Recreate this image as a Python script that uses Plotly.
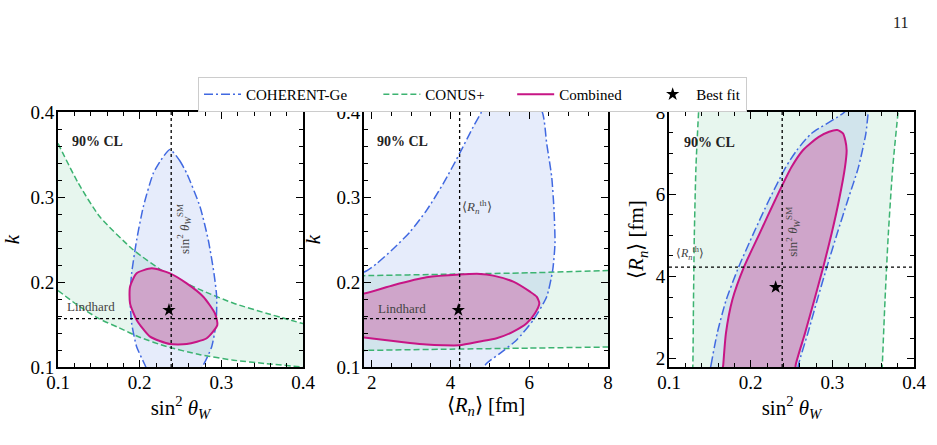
import plotly.graph_objects as go

# ---------------- reference values ----------------
sw2_sm = 0.2386          # SM weak mixing angle
k_lindhard = 0.157       # Lindhard k
rn_th = 4.23             # theoretical neutron radius [fm]

# ---------------- panel 1 : sin^2(theta_W) vs k ----------------
p1_conus_s_up = [0.100, 0.125, 0.151, 0.192, 0.233, 0.274, 0.315, 0.356, 0.400]
p1_conus_k_up = [0.363, 0.316, 0.277, 0.238, 0.210, 0.191, 0.175, 0.163, 0.151]
p1_conus_s_lo = [0.100, 0.125, 0.150, 0.175, 0.200, 0.233, 0.274, 0.315, 0.355, 0.400]
p1_conus_k_lo = [0.190, 0.172, 0.157, 0.146, 0.135, 0.124, 0.1145, 0.108, 0.104, 0.100]

p1_coh_s = [0.2371, 0.2485, 0.2576, 0.2739, 0.2840, 0.2910, 0.2943, 0.2935, 0.2882, 0.2780,
            0.2650, 0.2400, 0.2150, 0.2065, 0.1963, 0.1902, 0.1882, 0.1902, 0.1963, 0.2045,
            0.2167, 0.2261, 0.2371]
p1_coh_k = [0.356, 0.3435, 0.3279, 0.2886, 0.2494, 0.2102, 0.1827, 0.1514, 0.1239, 0.1024,
            0.085, 0.075, 0.085, 0.1024, 0.1239, 0.1514, 0.1827, 0.2102, 0.2494, 0.2886,
            0.3279, 0.3435, 0.356]

p1_comb_s = [0.2147, 0.2371, 0.2576, 0.2779, 0.2922, 0.2951, 0.2821, 0.2576, 0.2371, 0.2127,
             0.1963, 0.1882, 0.1882, 0.1963, 0.2147]
p1_comb_k = [0.2161, 0.2102, 0.1984, 0.1827, 0.1631, 0.1494, 0.1338, 0.1270, 0.1270, 0.1357,
             0.1553, 0.1749, 0.1945, 0.2102, 0.2161]
p1_best = (0.2359, 0.167)

# ---------------- panel 2 : <R_n> vs k ----------------
p2_conus_r = [1.0, 1.8, 4.0, 6.0, 8.0, 9.0]
p2_conus_k_up = [0.2070, 0.2075, 0.2092, 0.2108, 0.2135, 0.2145]
p2_conus_k_lo = [0.1190, 0.1195, 0.1210, 0.1222, 0.1235, 0.1240]

p2_coh_r = [1.0, 1.8, 2.121, 2.544, 2.967, 3.39, 3.813, 4.227, 4.574, 4.786, 5.0, 5.6,
            6.33, 6.442, 6.569, 6.628, 6.653, 6.595, 6.442, 6.102, 5.68, 5.256, 4.918, 4.7,
            4.4, 1.0, 1.0]
p2_coh_k = [0.21, 0.2118, 0.2216, 0.2392, 0.2588, 0.2843, 0.3157, 0.351, 0.3824, 0.4, 0.42, 0.45,
            0.4, 0.363, 0.3239, 0.2847, 0.2455, 0.2141, 0.1827, 0.1553, 0.1318, 0.1161, 0.1043, 0.09,
            0.07, 0.07, 0.21]

p2_comb_r = [1.2, 1.8, 2.544, 3.39, 4.227, 4.748, 5.082, 5.594, 6.018, 6.187, 6.255, 6.145,
             5.934, 5.594, 5.172, 4.748, 4.227, 3.813, 3.39, 2.967, 2.544, 1.8, 1.2, 1.2]
p2_comb_k = [0.183, 0.1864, 0.1962, 0.2055, 0.2088, 0.2095, 0.2075, 0.2004, 0.1886, 0.1827, 0.175, 0.1632,
             0.1514, 0.1416, 0.1338, 0.1300, 0.1256, 0.1256, 0.1264, 0.1283, 0.1307, 0.1346, 0.137, 0.183]
p2_best = (4.197, 0.167)

# ---------------- panel 3 : sin^2(theta_W) vs <R_n> ----------------
p3_conus_r = [1.5, 1.85, 3.42, 5.01, 6.66, 8.0, 8.3]
p3_conus_s_left = [0.1283, 0.1292, 0.1300, 0.1310, 0.1330, 0.1362, 0.1370]
p3_conus_s_right = [0.3605, 0.3612, 0.3645, 0.3685, 0.3740, 0.3805, 0.3820]

p3_coh_s = [0.1490, 0.1515, 0.1590, 0.1700, 0.1855, 0.2035, 0.2225, 0.2430, 0.2565, 0.2740,
            0.3150, 0.3250, 0.3440, 0.3450, 0.3440, 0.3410, 0.3320, 0.3190, 0.3060, 0.2935,
            0.2815, 0.2700, 0.2585, 0.2565, 0.1490]
p3_coh_r = [1.5, 1.85, 2.62, 3.43, 4.24, 5.05, 5.86, 6.66, 7.07, 7.47,
            8.0, 8.3, 8.3, 8.15, 8.0, 7.47, 6.66, 5.86, 5.05, 4.24,
            3.43, 2.62, 1.85, 1.5, 1.5]

p3_comb_s = [0.1650, 0.1664, 0.1697, 0.1775, 0.1920, 0.2110, 0.2300, 0.2500, 0.2640, 0.2830,
             0.2960, 0.3060, 0.3130, 0.3160, 0.3175, 0.3155, 0.3082, 0.2992, 0.2890, 0.2779,
             0.2665, 0.2551, 0.2535, 0.1650]
p3_comb_r = [1.5, 1.85, 2.62, 3.43, 4.24, 5.05, 5.86, 6.66, 7.07, 7.39,
             7.52, 7.56, 7.48, 7.30, 7.07, 6.66, 5.86, 5.05, 4.24, 3.43,
             2.62, 1.85, 1.5, 1.5]
p3_best = (0.2306, 3.74)

# ---------------- styles ----------------
FONT = "Liberation Serif, Times New Roman, serif"
BLUE = "#4169E1"
GREEN = "#3CB371"
MAG = "#C71585"
BLUE_FILL = "rgba(65,105,225,0.13)"
GREEN_FILL = "rgba(60,179,113,0.12)"
MAG_FILL = "#CFA5CA"
BLUE_DASH = "9px,3px,2px,3px"
GREEN_DASH = "6px,3px"
NB = "\u00a0"

fig = go.Figure()

def add_panel(idx, green_polys, green_lines, coh, comb, best, first):
    xa = "x" if idx == 1 else f"x{idx}"
    ya = "y" if idx == 1 else f"y{idx}"
    for gx, gy in green_polys:
        fig.add_trace(go.Scatter(x=gx, y=gy, mode="lines", fill="toself", fillcolor=GREEN_FILL,
                                 line=dict(width=0), hoverinfo="skip", showlegend=False,
                                 xaxis=xa, yaxis=ya))
    fig.add_trace(go.Scatter(x=coh[0], y=coh[1], mode="lines", fill="toself", fillcolor=BLUE_FILL,
                             line=dict(width=0, shape="spline", smoothing=0.6), hoverinfo="skip",
                             showlegend=False, xaxis=xa, yaxis=ya))
    for j, (lx, ly) in enumerate(green_lines):
        fig.add_trace(go.Scatter(x=lx, y=ly, mode="lines", name="CONUS+" + NB * 6,
                                 line=dict(color=GREEN, width=1.5, dash=GREEN_DASH, shape="spline", smoothing=0.6),
                                 showlegend=(first and j == 0), legendrank=2,
                                 xaxis=xa, yaxis=ya))
    fig.add_trace(go.Scatter(x=coh[0], y=coh[1], mode="lines", name="COHERENT-Ge" + NB * 7,
                             line=dict(color=BLUE, width=1.5, dash=BLUE_DASH, shape="spline", smoothing=0.6),
                             showlegend=first, legendrank=1, xaxis=xa, yaxis=ya))
    fig.add_trace(go.Scatter(x=comb[0], y=comb[1], mode="lines", fill="toself", fillcolor=MAG_FILL,
                             line=dict(color=MAG, width=2, shape="spline", smoothing=0.6),
                             hoverinfo="skip", showlegend=False, xaxis=xa, yaxis=ya))
    if first:
        fig.add_trace(go.Scatter(x=[None], y=[None], mode="lines", name="Combined" + NB * 6,
                                 line=dict(color=MAG, width=2), legendrank=3, xaxis=xa, yaxis=ya))
    fig.add_trace(go.Scatter(x=[best[0]], y=[best[1]], mode="markers", name="Best fit",
                             marker=dict(symbol="star", size=10, color="black"),
                             showlegend=first, legendrank=4, xaxis=xa, yaxis=ya))

add_panel(1,
          [(p1_conus_s_up + p1_conus_s_lo[::-1], p1_conus_k_up + p1_conus_k_lo[::-1])],
          [(p1_conus_s_up, p1_conus_k_up), (p1_conus_s_lo, p1_conus_k_lo)],
          (p1_coh_s, p1_coh_k), (p1_comb_s, p1_comb_k), p1_best, True)
add_panel(2,
          [(p2_conus_r + p2_conus_r[::-1], p2_conus_k_up + p2_conus_k_lo[::-1])],
          [(p2_conus_r, p2_conus_k_up), (p2_conus_r, p2_conus_k_lo)],
          (p2_coh_r, p2_coh_k), (p2_comb_r, p2_comb_k), p2_best, False)
add_panel(3,
          [(p3_conus_s_left + p3_conus_s_right[::-1], p3_conus_r + p3_conus_r[::-1])],
          [(p3_conus_s_left, p3_conus_r), (p3_conus_s_right, p3_conus_r)],
          (p3_coh_s, p3_coh_r), (p3_comb_s, p3_comb_r), p3_best, False)

# ---------------- axes ----------------
W, H = 937, 445
def dom(a, b, total):
    return [a / total, b / total]

ydom = [1 - 367 / H, 1 - 112 / H]
xdoms = [dom(58, 303, W), dom(364, 608, W), dom(669, 914, W)]

def axis_style(domain, rng, tickvals, minor, title, anchor, standoff, lab_off):
    return dict(domain=domain, range=rng, tickvals=tickvals,
                ticktext=[("%g" % v) for v in tickvals],
                showline=True, linecolor="black", linewidth=2, mirror="allticks",
                ticks="inside", ticklen=7, tickwidth=1.4, tickcolor="black",
                minor=dict(dtick=minor, ticks="inside", ticklen=4, tickwidth=1, tickcolor="black"),
                showgrid=False, zeroline=False, anchor=anchor, automargin=False,
                ticklabelstandoff=lab_off,
                tickfont=dict(family=FONT, size=19, color="black"),
                title=dict(text=title, font=dict(family=FONT, size=21, color="black"), standoff=standoff))

sin_title = "sin<sup>2</sup> <i>θ</i><sub><i>W</i></sub>"
rn_title = "⟨<i>R</i><sub><i>n</i></sub>⟩ [fm]"
k_title = "<i>k</i>"

fig.update_layout(
    xaxis=axis_style(xdoms[0], [0.1, 0.4], [0.1, 0.2, 0.3, 0.4], 0.02, sin_title, "y", 2, -3),
    yaxis=axis_style(ydom, [0.1, 0.4], [0.1, 0.2, 0.3, 0.4], 0.02, k_title, "x", 12, -2),
    xaxis2=axis_style(xdoms[1], [1.8, 8], [2, 4, 6, 8], 0.5, rn_title, "y2", 2, -3),
    yaxis2=axis_style(ydom, [0.1, 0.4], [0.1, 0.2, 0.3, 0.4], 0.02, k_title, "x2", 10, -2),
    xaxis3=axis_style(xdoms[2], [0.1, 0.4], [0.1, 0.2, 0.3, 0.4], 0.02, sin_title, "y3", 2, -3),
    yaxis3=axis_style(ydom, [1.8, 8], [2, 4, 6, 8], 0.5, rn_title, "x3", 6, -2),
)

# ---------------- reference lines ----------------
dot = dict(color="black", width=1.3, dash="dot")
shapes = [
    dict(type="line", xref="x", yref="y domain", x0=sw2_sm, x1=sw2_sm, y0=0, y1=1, line=dot),
    dict(type="line", xref="x domain", yref="y", x0=0, x1=1, y0=k_lindhard, y1=k_lindhard, line=dot),
    dict(type="line", xref="x2", yref="y2 domain", x0=rn_th, x1=rn_th, y0=0, y1=1, line=dot),
    dict(type="line", xref="x2 domain", yref="y2", x0=0, x1=1, y0=k_lindhard, y1=k_lindhard, line=dot),
    dict(type="line", xref="x3", yref="y3 domain", x0=sw2_sm, x1=sw2_sm, y0=0, y1=1, line=dot),
    dict(type="line", xref="x3 domain", yref="y3", x0=0, x1=1, y0=rn_th, y1=rn_th, line=dot),
]
fig.update_layout(shapes=shapes)

# ---------------- annotations ----------------
GREY = "#444444"
sm_label = "sin<sup>2</sup> <i>θ</i><sub><i>W</i></sub><sup>SM</sup>"
rth_label = "⟨<i>R</i><sub><i>n</i></sub><sup>th</sup>⟩"
ann = []
for xa, ya, x in [("x", "y", 0.1146), ("x2", "y2", 2.08), ("x3", "y3", 0.116)]:
    yv = 7.27 if xa == "x3" else 0.3655
    ann.append(dict(xref=xa, yref=ya, x=x, y=yv, text="<b>90% CL</b>", showarrow=False,
                    xanchor="left", yanchor="middle", font=dict(family=FONT, size=14, color="#222")))
ann += [
    dict(xref="x", yref="y", x=0.1086, y=0.1706, text="Lindhard", showarrow=False,
         xanchor="left", yanchor="middle", font=dict(family=FONT, size=13, color=GREY)),
    dict(xref="x2", yref="y2", x=2.10, y=0.1694, text="Lindhard", showarrow=False,
         xanchor="left", yanchor="middle", font=dict(family=FONT, size=13, color=GREY)),
    dict(xref="x", yref="y", x=0.255, y=0.262, text=sm_label, textangle=-90, showarrow=False,
         font=dict(family=FONT, size=13, color=GREY)),
    dict(xref="x3", yref="y3", x=0.2515, y=5.08, text=sm_label, textangle=-90, showarrow=False,
         font=dict(family=FONT, size=13, color=GREY)),
    dict(xref="x2", yref="y2", x=4.67, y=0.2886, text=rth_label, showarrow=False,
         font=dict(family=FONT, size=13, color=GREY)),
    dict(xref="x3", yref="y3", x=0.1257, y=4.55, text=rth_label, showarrow=False,
         font=dict(family=FONT, size=12, color=GREY)),
    dict(xref="paper", yref="paper", x=910 / W, y=1 - 12 / H, text="11", showarrow=False,
         font=dict(family=FONT, size=16, color="#222")),
]
fig.update_layout(annotations=ann)

fig.update_layout(
    width=W, height=H,
    margin=dict(l=0, r=0, t=0, b=0),
    paper_bgcolor="white", plot_bgcolor="white",
    font=dict(family=FONT, color="black"),
    legend=dict(orientation="h", x=198 / W, y=1 - 77 / H, xanchor="left", yanchor="top",
                bgcolor="white", bordercolor="#cccccc", borderwidth=1, itemwidth=37,
                font=dict(family=FONT, size=15, color="black"), traceorder="normal"),
)

fig.write_html("out.html")
